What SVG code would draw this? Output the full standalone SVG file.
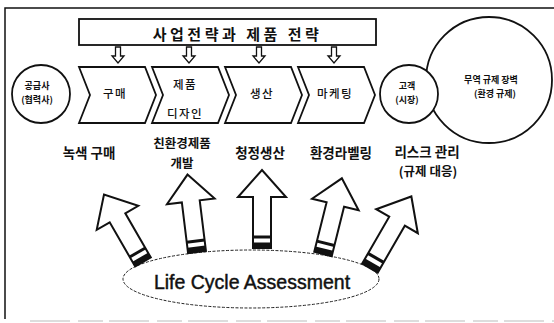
<svg xmlns="http://www.w3.org/2000/svg" width="554" height="323" viewBox="0 0 554 323">
<style>
.ln{fill:#fff;stroke:#111;stroke-width:1.8;stroke-linejoin:miter}
.kr{font-family:"Noto Sans CJK KR","Noto Sans",sans-serif;fill:#111;text-anchor:middle}
.b{font-weight:700}
.row{font-size:13.5px;font-weight:700}
.row2{font-size:12.5px;font-weight:700}
.chv{font-size:11.5px;font-weight:500;letter-spacing:1.5px}
.sm{font-size:9px;font-weight:700}
.en{font-family:"Liberation Sans",Arial,sans-serif;font-size:19.5px;fill:#111;stroke:#111;stroke-width:0.45;text-anchor:middle}
.blk{fill:#111}
</style>
<defs>
<g id="bigArrow">
<path d="M -9 0 V -51 H -24 L 0 -78 L 24 -51 H 9 V 0 Z" fill="#fff" stroke="#111" stroke-width="2" stroke-linejoin="miter"/>
<rect class="blk" x="-9" y="-12.5" width="18" height="3"/>
<rect class="blk" x="-9" y="-5.5" width="18" height="5.5"/>
</g>
<path id="smallArrow" d="M -2.5 0 V 9 H -6 L 0 16 L 6 9 H 2.5 V 0 Z" fill="#fff" stroke="#111" stroke-width="1.3"/>
</defs>
<rect width="554" height="323" fill="#fff"/>
<g id="frame" fill="none">
<path d="M 5 319 V 8 H 554" stroke="#111" stroke-width="1.5"/>
<path d="M 30 321 H 554" stroke="#bbb" stroke-width="1.2" stroke-dasharray="40 8 25 6"/>
</g>
<g id="trade-barrier">
<circle class="ln" cx="489" cy="80" r="63" stroke-width="1.4"/>
<text class="kr sm" x="491" y="83">무역 규제 장벽</text>
<text class="kr sm" x="495" y="97">(환경 규제)</text>
</g>
<g id="customer">
<circle class="ln" cx="409" cy="94" r="29" stroke-width="1.4"/>
<text class="kr sm" x="407" y="89">고객</text>
<text class="kr sm" x="407" y="103">(시장)</text>
</g>
<g id="supplier">
<circle class="ln" cx="41" cy="94" r="29" stroke-width="1.4"/>
<text class="kr sm" x="37" y="89">공급사</text>
<text class="kr sm" x="37" y="103">(협력사)</text>
</g>
<g id="strategy">
<rect class="ln" x="79" y="19" width="297" height="26" stroke-width="2"/>
<text class="kr b" x="237.5" y="40" font-size="15" letter-spacing="3.5">사업전략과 제품 전략</text>
</g>
<g id="purchase">
<path class="ln" d="M 79 67 H 145 L 156 95 L 145 123 H 79 L 90 95 Z"/>
<text class="kr chv" x="115" y="98">구매</text>
</g>
<g id="design">
<path class="ln" d="M 152 67 H 218 L 229 95 L 218 123 H 152 L 163 95 Z"/>
<text class="kr chv" x="185" y="89">제품</text>
<text class="kr chv" x="185" y="118">디자인</text>
</g>
<g id="production">
<path class="ln" d="M 225 67 H 291 L 302 95 L 291 123 H 225 L 236 95 Z"/>
<text class="kr chv" x="262" y="98">생산</text>
</g>
<g id="marketing">
<path class="ln" d="M 298 67 H 364 L 375 95 L 364 123 H 298 L 309 95 Z"/>
<text class="kr chv" x="335" y="98">마케팅</text>
</g>
<g id="green-purchase"><text class="kr row" x="89" y="158">녹색 구매</text></g>
<g id="eco-design"><text class="kr row2" x="182" y="148">친환경제품</text><text class="kr row2" x="182" y="168">개발</text></g>
<g id="clean-production"><text class="kr row" x="260" y="158">청정생산</text></g>
<g id="eco-label"><text class="kr row" x="341" y="158">환경라벨링</text></g>
<g id="risk"><text class="kr row" x="427" y="157">리스크 관리</text><text class="kr row2" x="428" y="176">(규제 대응)</text></g>
<g id="lca">
<ellipse cx="251" cy="279" rx="128" ry="29" fill="none" stroke="#222" stroke-width="1" stroke-dasharray="3 1.5"/>
<text class="en" x="252" y="289">Life Cycle Assessment</text>
</g>
<g id="connectors">
<use href="#smallArrow" x="118" y="47"/>
<use href="#smallArrow" x="189" y="47"/>
<use href="#smallArrow" x="259" y="47"/>
<use href="#smallArrow" x="334" y="47"/>
<use href="#bigArrow" transform="translate(143,262) rotate(-30)"/>
<use href="#bigArrow" transform="translate(197,252) rotate(-7)"/>
<use href="#bigArrow" transform="translate(262,248)"/>
<use href="#bigArrow" transform="translate(323,254) rotate(14)"/>
<use href="#bigArrow" transform="translate(370,268) rotate(30) scale(1,1.06)"/>
</g>
</svg>
